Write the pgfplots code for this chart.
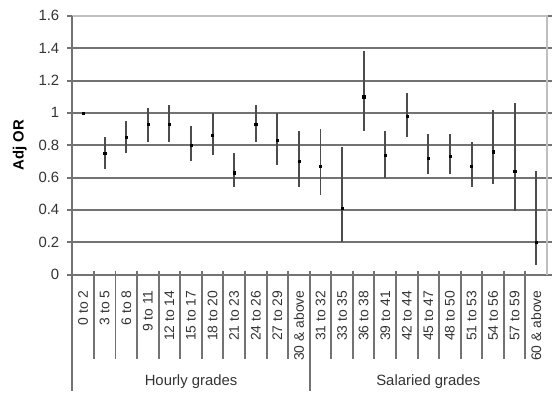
\documentclass[border=0pt]{standalone}
\usepackage{pgfplots}
\pgfplotsset{compat=1.18}
\usepackage{pgfplotstable}
\usepackage{fontspec}
\setmainfont{Liberation Sans}

\pgfplotstableread{
x y lo hi
0.5 1.00 1.00 1.00
1.5 0.75 0.65 0.85
2.5 0.85 0.75 0.95
3.5 0.93 0.82 1.03
4.5 0.93 0.82 1.05
5.5 0.80 0.70 0.92
6.5 0.86 0.74 1.00
7.5 0.63 0.54 0.75
8.5 0.93 0.82 1.05
9.5 0.83 0.68 1.00
10.5 0.70 0.54 0.89
11.5 0.67 0.49 0.90
12.5 0.41 0.20 0.79
13.5 1.10 0.89 1.38
14.5 0.74 0.60 0.89
15.5 0.98 0.85 1.12
16.5 0.72 0.62 0.87
17.5 0.73 0.62 0.87
18.5 0.67 0.54 0.82
19.5 0.76 0.56 1.02
20.5 0.64 0.39 1.06
21.5 0.20 0.06 0.64
}\datatable

\definecolor{gridc}{gray}{0.45}
\definecolor{framec}{gray}{0.75}
\definecolor{barc}{gray}{0.3}
\definecolor{txtc}{gray}{0.2}

\begin{document}
\begin{tikzpicture}
\begin{axis}[
  scale only axis, width=479pt, height=261pt,
  xmin=0, xmax=22, ymin=0, ymax=1.6,
  clip=false,
  axis line style={draw=none},
  font=\fontsize{15}{18}\selectfont,
  ytick={0,0.2,0.4,0.6,0.8,1,1.2,1.4,1.6},
  yticklabels={0,0.2,0.4,0.6,0.8,1,1.2,1.4,1.6},
  ymajorgrids,
  grid style={gridc, line width=2pt},
  tick align=outside,
  major tick length=5pt,
  y tick style={gridc, line width=2pt},
  x tick style={draw=none},
  yticklabel style={inner sep=0pt, xshift=-8pt, text=txtc, font=\fontsize{15}{18}\selectfont},
  xtick={0.5,1.5,2.5,3.5,4.5,5.5,6.5,7.5,8.5,9.5,10.5,11.5,12.5,13.5,14.5,15.5,16.5,17.5,18.5,19.5,20.5,21.5},
  xticklabels={0 to 2,3 to 5,6 to 8,9 to 11,12 to 14,15 to 17,18 to 20,21 to 23,24 to 26,27 to 29,30 \& above,31 to 32,33 to 35,36 to 38,39 to 41,42 to 44,45 to 47,48 to 50,51 to 53,54 to 56,57 to 59,60 \& above},
  xticklabel style={yshift=-11pt, rotate=90, anchor=east, inner sep=0pt, text=txtc, font=\fontsize{14}{17}\selectfont},
  every axis y label/.style={at={(rel axis cs:0,0.5)}, xshift=-53pt, rotate=90, anchor=center},
  ylabel={\textbf{Adj OR}},
]
\addplot[only marks, mark=square*, mark size=1.1pt, black,
  error bars/.cd, y dir=both, y explicit, error mark=none,
  error bar style={barc, line width=2pt}]
  table[x=x, y=y, y error plus expr=\thisrow{hi}-\thisrow{y}, y error minus expr=\thisrow{y}-\thisrow{lo}] {\datatable};
\draw[framec, line width=2pt] (rel axis cs:0,1) -- (rel axis cs:1,1) -- (rel axis cs:1,0);
\draw[gridc, line width=2pt] (rel axis cs:0,1) -- ++(0,-379pt);
\pgfplotsinvokeforeach{1,2,3,4,5,6,7,8,9,10,12,13,14,15,16,17,18,19,20,21}{
  \draw[gridc, line width=2pt] (axis cs:#1,0) ++(0,4pt) -- ++(0,-89pt);
}
\draw[gridc, line width=2pt] (axis cs:11,0) ++(0,4pt) -- ++(0,-122pt);
\node[text=txtc] at (axis cs:5.5,0) [yshift=-108pt] {Hourly grades};
\node[text=txtc] at (axis cs:16.5,0) [yshift=-108pt] {Salaried grades};
\end{axis}
\path[use as bounding box] (-73pt,-118pt) rectangle (480pt,277pt);
\end{tikzpicture}
\end{document}
